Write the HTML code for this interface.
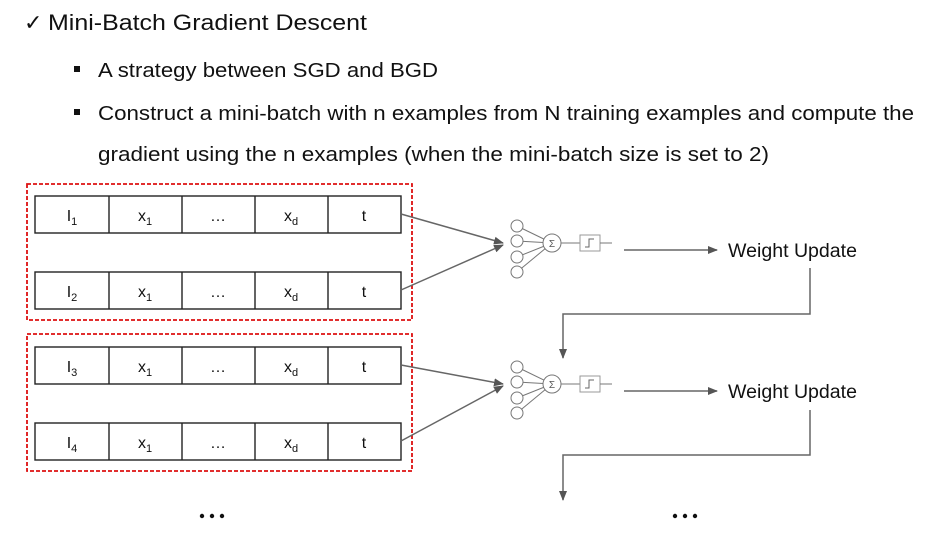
<!DOCTYPE html>
<html><head><meta charset="utf-8"><style>html,body{margin:0;padding:0;background:#fff}svg{display:block}</style></head>
<body>
<svg width="944" height="543" viewBox="0 0 944 543" xmlns="http://www.w3.org/2000/svg" font-family="Liberation Sans, sans-serif">
<defs>
<marker id="ah" markerWidth="10" markerHeight="10" refX="9" refY="5" orient="auto" markerUnits="userSpaceOnUse"><path d="M0,1 L10,5 L0,9 Z" fill="#555"/></marker>
<g id="neuron" stroke="#777" fill="#fff" stroke-width="1">
<line x1="517" y1="226" x2="552" y2="243"/><line x1="517" y1="241" x2="552" y2="243"/><line x1="517" y1="257" x2="552" y2="243"/><line x1="517" y1="272" x2="552" y2="243"/>
<circle cx="517" cy="226" r="6"/><circle cx="517" cy="241" r="6"/><circle cx="517" cy="257" r="6"/><circle cx="517" cy="272" r="6"/>
<circle cx="552" cy="243" r="9"/>
<text x="552" y="247" font-size="10" text-anchor="middle" fill="#555" stroke="none">Σ</text>
<line x1="561" y1="243" x2="580" y2="243"/>
<rect x="580" y="235" width="20" height="16" stroke="#999"/>
<path d="M585,247 h4 v-8 h5" fill="none" stroke="#666"/>
<line x1="600" y1="243" x2="612" y2="243"/>
</g>
<g id="row" stroke="#222" stroke-width="1.4" fill="#fff">
<rect x="35" y="0" width="366" height="37"/>
<line x1="109" y1="0" x2="109" y2="37"/><line x1="182" y1="0" x2="182" y2="37"/><line x1="255" y1="0" x2="255" y2="37"/><line x1="328" y1="0" x2="328" y2="37"/>
</g>
</defs>
<text x="24" y="30" font-size="22" fill="#111">✓</text>
<text x="48" y="30" font-size="22" fill="#111" textLength="319" lengthAdjust="spacingAndGlyphs">Mini-Batch Gradient Descent</text>
<rect x="74" y="66" width="6" height="6" fill="#111"/>
<text x="98" y="77" font-size="20" fill="#111" textLength="340" lengthAdjust="spacingAndGlyphs">A strategy between SGD and BGD</text>
<rect x="74" y="109" width="6" height="6" fill="#111"/>
<text x="98" y="120" font-size="20" fill="#111" textLength="816" lengthAdjust="spacingAndGlyphs">Construct a mini-batch with n examples from N training examples and compute the</text>
<text x="98" y="161" font-size="20" fill="#111" textLength="671" lengthAdjust="spacingAndGlyphs">gradient using the n examples (when the mini-batch size is set to 2)</text>

<rect x="27" y="184" width="385" height="136" fill="none" stroke="#d11" stroke-width="1.8" stroke-dasharray="4,2"/>
<rect x="27" y="334" width="385" height="137" fill="none" stroke="#d11" stroke-width="1.8" stroke-dasharray="4,2"/>

<use href="#row" y="196"/><use href="#row" y="272"/><use href="#row" y="347"/><use href="#row" y="423"/>
<g font-size="16" fill="#111" text-anchor="middle">
<text x="72" y="221">I<tspan font-size="11" dy="4">1</tspan></text><text x="145" y="221">x<tspan font-size="11" dy="4">1</tspan></text><text x="218" y="221">…</text><text x="291" y="221">x<tspan font-size="11" dy="4">d</tspan></text><text x="364" y="221">t</text>
<text x="72" y="297">I<tspan font-size="11" dy="4">2</tspan></text><text x="145" y="297">x<tspan font-size="11" dy="4">1</tspan></text><text x="218" y="297">…</text><text x="291" y="297">x<tspan font-size="11" dy="4">d</tspan></text><text x="364" y="297">t</text>
<text x="72" y="372">I<tspan font-size="11" dy="4">3</tspan></text><text x="145" y="372">x<tspan font-size="11" dy="4">1</tspan></text><text x="218" y="372">…</text><text x="291" y="372">x<tspan font-size="11" dy="4">d</tspan></text><text x="364" y="372">t</text>
<text x="72" y="448">I<tspan font-size="11" dy="4">4</tspan></text><text x="145" y="448">x<tspan font-size="11" dy="4">1</tspan></text><text x="218" y="448">…</text><text x="291" y="448">x<tspan font-size="11" dy="4">d</tspan></text><text x="364" y="448">t</text>
</g>

<g stroke="#666" stroke-width="1.5" fill="none">
<line x1="401" y1="214" x2="503" y2="243" marker-end="url(#ah)"/>
<line x1="401" y1="290" x2="503" y2="245" marker-end="url(#ah)"/>
<line x1="401" y1="365" x2="503" y2="384" marker-end="url(#ah)"/>
<line x1="401" y1="441" x2="503" y2="386" marker-end="url(#ah)"/>
<line x1="624" y1="250" x2="717" y2="250" marker-end="url(#ah)"/>
<line x1="624" y1="391" x2="717" y2="391" marker-end="url(#ah)"/>
<polyline points="810,268 810,314 563,314 563,358" marker-end="url(#ah)"/>
<polyline points="810,410 810,455 563,455 563,500" marker-end="url(#ah)"/>
</g>
<use href="#neuron"/><use href="#neuron" y="141"/>
<text x="728" y="257" font-size="19" fill="#111" textLength="129" lengthAdjust="spacingAndGlyphs">Weight Update</text>
<text x="728" y="398" font-size="19" fill="#111" textLength="129" lengthAdjust="spacingAndGlyphs">Weight Update</text>
<g fill="#111"><circle cx="202" cy="516" r="2.2"/><circle cx="212" cy="516" r="2.2"/><circle cx="222" cy="516" r="2.2"/>
<circle cx="675" cy="516" r="2.2"/><circle cx="685" cy="516" r="2.2"/><circle cx="695" cy="516" r="2.2"/></g>
</svg>
</body></html>
